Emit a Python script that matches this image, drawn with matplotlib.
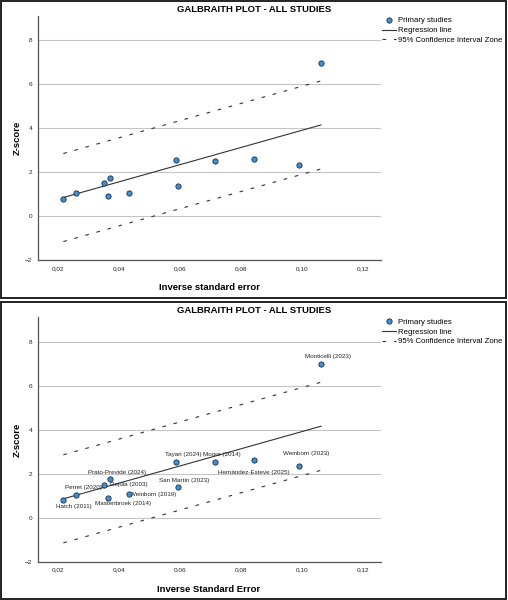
import matplotlib
matplotlib.use("Agg")
import matplotlib.pyplot as plt
from matplotlib.patches import Rectangle
from matplotlib.ticker import FuncFormatter
import numpy as np

plt.rcParams['font.family'] = ['Liberation Sans', 'DejaVu Sans']

# study data
studies = ["Hatch (2011)", "Perret (2020)", "Rejula (2003)", "Prato-Previde (2024)",
           "Mastenbroek (2014)", "Weinborn (2019)", "Tayari (2024)", "San Martín (2023)",
           "Moore (2014)", "Hernández-Esteve (2025)", "Weinborn (2023)", "Monticelli (2023)"]
inv_se = [0.0219, 0.0261, 0.0353, 0.0371, 0.0366, 0.0433, 0.0588, 0.0593,
          0.0717, 0.0843, 0.0991, 0.1063]
z_score = [0.80, 1.05, 1.50, 1.76, 0.91, 1.06, 2.55, 1.38, 2.53, 2.62, 2.34, 6.97]
x_ticks = [0.02, 0.04, 0.06, 0.08, 0.10, 0.12]
y_ticks = [-2, 0, 2, 4, 6, 8]
ci_z = 2.0

# label placement (pixel offsets, alignment)
label_pos = [(10.7, -6, 'center'), (7.3, 7.4, 'center'), (6, 0, 'left'),
             (7, 6.7, 'center'), (14.5, -6.3, 'center'), (1.5, 0, 'left'),
             (7.5, 7, 'center'), (7, 6.7, 'center'), (7, 7.7, 'center'),
             (0, -13, 'center'), (6.7, 12.6, 'center'), (7, 7.4, 'center')]

W, H = 508, 600
fig = plt.figure(figsize=(W / 100, H / 100), dpi=100)

x = np.array(inv_se)
y = np.array(z_score)
slope = np.sum(x * y) / np.sum(x * x)  # regression through origin
xl = np.array([x.min(), x.max()])
yl = slope * xl


def draw_panel(shift, xlabel, show_labels):
    left, right = 37.7, 380.5
    top, bottom = 16 + shift, 260.4 + shift
    ax = fig.add_axes([left / W, 1 - bottom / H, (right - left) / W, (bottom - top) / H])
    ax.set_xlim(0.0135, 0.1258)
    ax.set_ylim(-2, 9.1)
    for s in ['top', 'right']:
        ax.spines[s].set_visible(False)
    for s in ['left', 'bottom']:
        ax.spines[s].set_color('#555555')
        ax.spines[s].set_linewidth(0.9)
    ax.set_yticks(y_ticks)
    ax.set_xticks(x_ticks)
    ax.xaxis.set_major_formatter(FuncFormatter(lambda v, p: f"{v:.2f}".replace('.', ',')))
    ax.tick_params(labelsize=4.6, length=0, pad=4, colors='#222222')
    ax.yaxis.grid(True, color='#c4c4c4', lw=0.8)
    ax.set_axisbelow(True)

    ax.plot(xl, yl, color='#333333', lw=0.8, label='Regression line')
    ax.plot(xl, yl + ci_z, color='#333333', lw=0.8, ls=(0, (3.3, 7.0)),
            label='95% Confidence Interval Zone')
    ax.plot(xl, yl - ci_z, color='#333333', lw=0.8, ls=(0, (3.3, 7.0)))
    ax.plot(x, y, 'o', ms=3.8, mfc='#3f8fd2', mec='#1d2f45', mew=0.6,
            label='Primary studies', zorder=5)

    if show_labels:
        for name, xi, yi, (dx, dy, ha) in zip(studies, x, y, label_pos):
            ax.annotate(name, (xi, yi), xytext=(dx, dy), textcoords='offset pixels',
                        ha=ha, va='center', fontsize=4.5, color='#222222')

    ax.set_ylabel('Z-score', fontsize=6.8, fontweight='bold', labelpad=2.5)
    ax.set_xlabel(xlabel, fontsize=6.8, fontweight='bold', labelpad=9)

    h, l = ax.get_legend_handles_labels()
    order = [2, 0, 1]
    ax.legend([h[i] for i in order], [l[i] for i in order],
              loc='upper left', bbox_to_anchor=(381.7 / W, 1 - (17 + shift) / H),
              bbox_transform=fig.transFigure, frameon=False, fontsize=5.6,
              handlelength=1.8, handletextpad=0.3, labelspacing=0.3,
              borderpad=0, borderaxespad=0, numpoints=1)

    fig.text(254 / W, 1 - (9.5 + shift) / H, 'GALBRAITH PLOT - ALL STUDIES',
             ha='center', va='center', fontsize=6.8, fontweight='bold')
    return ax


draw_panel(0, 'Inverse standard error', False)
draw_panel(301.3, 'Inverse Standard Error', True)

# panel frames
for y0, y1 in [(0.8, 298.4), (302.1, 598.6)]:
    fig.patches.append(Rectangle((1.2 / W, 1 - y1 / H), (506.4 - 1.2) / W, (y1 - y0) / H,
                                 transform=fig.transFigure, fill=False,
                                 edgecolor='#222222', lw=1.4))

fig.savefig('out.png', dpi=100)
